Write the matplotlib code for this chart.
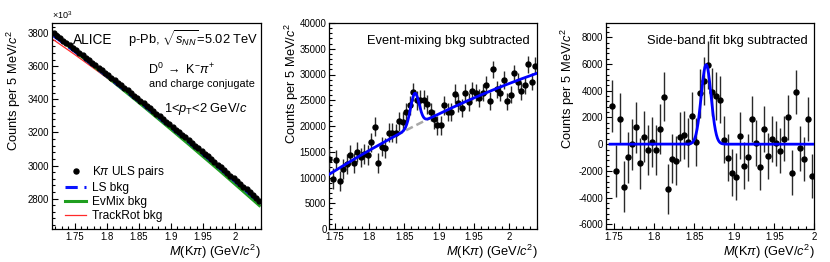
import numpy as np
import matplotlib
matplotlib.use("Agg")
import matplotlib.pyplot as plt
from matplotlib.ticker import MultipleLocator, FuncFormatter
from matplotlib.lines import Line2D

plt.rcParams['font.family'] = ['Liberation Sans', 'DejaVu Sans']
plt.rcParams['mathtext.fontset'] = 'custom'
plt.rcParams['mathtext.rm'] = 'Liberation Sans'
plt.rcParams['mathtext.it'] = 'Liberation Sans:italic'
plt.rcParams['mathtext.bf'] = 'Liberation Sans:bold'

# ---------------- data ----------------
# Left panel: K-pi ULS pair counts (x10^3), 5 MeV bins starting at 1.7175
uls_first_center = 1.7175
bin_width = 0.005
uls_counts = [3800.0, 3785.4, 3770.7, 3756.0, 3741.3, 3726.5, 3711.7, 3696.9, 3682.0, 3667.1,
              3652.1, 3637.1, 3622.1, 3607.0, 3591.9, 3576.7, 3561.5, 3546.3, 3531.0, 3515.7,
              3500.4, 3485.0, 3469.6, 3454.1, 3438.7, 3423.1, 3407.6, 3391.9, 3376.3, 3360.6,
              3344.9, 3329.1, 3313.3, 3297.5, 3281.6, 3265.7, 3249.8, 3233.8, 3217.8, 3201.7,
              3185.6, 3169.5, 3153.3, 3137.1, 3120.8, 3104.5, 3088.2, 3071.8, 3055.4, 3039.0,
              3022.5, 3006.0, 2989.4, 2972.8, 2956.2, 2939.5, 2922.8, 2906.1, 2889.3, 2872.5,
              2855.6, 2838.7, 2821.8, 2804.8, 2787.8]
bkg_mass = [1.7175, 1.75, 1.775, 1.80, 1.825, 1.85, 1.875, 1.90, 1.925, 1.95, 1.975, 2.0, 2.0375]
ls_bkg = [3784, 3691, 3617, 3541, 3465, 3388, 3309, 3230, 3150, 3068, 2986, 2903, 2777]
evmix_bkg = [3792, 3693, 3616, 3539, 3460, 3381, 3300, 3219, 3137, 3054, 2971, 2886, 2758]
trackrot_bkg = [3760, 3672, 3602, 3531, 3458, 3384, 3308, 3231, 3153, 3073, 2992, 2910, 2786]

# Middle panel: event-mixing bkg subtracted
mix_first_center = 1.7425
mix_counts = [13600, 9800, 13400, 9300, 11600, 12600, 14400, 12800, 14900, 13900,
              14600, 14400, 16800, 19900, 12800, 16000, 15700, 18700, 18700, 18600,
              20900, 20800, 22700, 24000, 26600, 25000, 25100, 25100, 24200, 22700,
              21300, 20100, 20100, 24000, 22700, 22700, 26300, 24500, 23500, 26500,
              24700, 26800, 26500, 25500, 26500, 27900, 24800, 31000, 27100, 26500,
              28900, 24800, 26100, 30200, 28600, 26800, 27900, 32000, 28600, 31700]
mix_err = [1950, 1950, 1950, 1940, 1940, 1930, 1930, 1920, 1920, 1910,
           1910, 1900, 1900, 1890, 1890, 1880, 1880, 1870, 1870, 1860,
           1860, 1850, 1850, 1840, 1840, 1830, 1830, 1820, 1820, 1810,
           1800, 1790, 1790, 1780, 1780, 1770, 1770, 1760, 1760, 1750,
           1750, 1740, 1740, 1730, 1730, 1720, 1720, 1710, 1710, 1700,
           1700, 1690, 1690, 1680, 1680, 1670, 1670, 1660, 1660, 1650]
# fit: quadratic background (about 1.745) + gaussian
mix_bkg_pars = [10850, 84000, -62000]
mix_gaus_pars = [6300, 1.865, 0.0062]   # amplitude, mean, sigma

# Right panel: side-band fit bkg subtracted
sb_first_center = 1.7475
sb_counts = [2860, -2000, 1910, -3200, -980, 0, 1260, -1430, 570, -420,
             130, -420, 1110, 3560, -3350, -1090, -1240, 570, 690, 140,
             2120, 150, 3800, 4750, 5900, 3930, 3600, 3330, 330, -1010,
             -2130, -2430, 640, -1610, -980, 1910, 70, -1680, 1110, -860,
             410, 70, -490, 410, 2010, -2130, 3910, -310, -1130, 1860, -2400]
sb_err = [1930, 1920, 1920, 1910, 1910, 1900, 1900, 1890, 1890, 1880,
          1870, 1870, 1860, 1860, 1850, 1850, 1840, 1840, 1830, 1830,
          1820, 1810, 1810, 1800, 1800, 1790, 1790, 1780, 1770, 1770,
          1760, 1760, 1750, 1750, 1740, 1730, 1730, 1720, 1720, 1710,
          1710, 1700, 1690, 1690, 1680, 1680, 1670, 1670, 1660, 1650, 1650]
sb_gaus_pars = [5950, 1.865, 0.0062]

# ---------------- figure ----------------
fig = plt.figure(figsize=(8.30, 2.62), dpi=100)
W, H = 830.0, 262.0
def rect(x0, x1, ytop, ybot):
    return [x0 / W, 1 - ybot / H, (x1 - x0) / W, (ybot - ytop) / H]

axL = fig.add_axes(rect(52, 261, 23, 229))
axM = fig.add_axes(rect(329.3, 537.3, 23, 229))
axR = fig.add_axes(rect(606, 814.3, 23, 229))

tick_fs = 6.9
title_fs = 9.3
gfmt = FuncFormatter(lambda v, p: ('%g' % round(v, 4)))

def style(ax, xmaj, xmin, ymaj, ymin):
    ax.xaxis.set_major_locator(MultipleLocator(xmaj))
    ax.xaxis.set_minor_locator(MultipleLocator(xmin))
    ax.yaxis.set_major_locator(MultipleLocator(ymaj))
    ax.yaxis.set_minor_locator(MultipleLocator(ymin))
    ax.xaxis.set_major_formatter(gfmt)
    ax.yaxis.set_major_formatter(gfmt)
    ax.tick_params(which='both', direction='in', top=False, right=False,
                   labelsize=tick_fs, width=0.8, pad=2)
    ax.tick_params(which='major', length=4.5)
    ax.tick_params(which='minor', length=2.3)
    for s in ax.spines.values():
        s.set_linewidth(0.9)

def labels(ax, ylab_x, ylab_top):
    ax.set_xlabel(r'$M$(K$\pi$) (GeV/$c^{2}$)', fontsize=title_fs)
    ax.xaxis.label.set(ha='right', va='baseline')
    ax.xaxis.set_label_coords(1.0, -0.133)
    ax.set_ylabel(r'Counts per 5 MeV/$c^{2}$', fontsize=title_fs)
    ax.yaxis.label.set(rotation_mode='default', ha='center', va='top')
    ax.yaxis.set_label_coords(ylab_x, ylab_top)

# ---- Left panel ----
uls_x = uls_first_center + bin_width * np.arange(len(uls_counts))
axL.plot(bkg_mass, trackrot_bkg, color='#ff2a2a', lw=0.9, zorder=2)
axL.plot(bkg_mass, evmix_bkg, color='#1f9e1f', lw=2.2, zorder=2)
axL.plot(bkg_mass, ls_bkg, color='#0a14ff', lw=2.2, ls=(0, (4, 2.2)), zorder=2)
axL.plot(uls_x, uls_counts, 'o', color='black', ms=3.5, zorder=3)
axL.set_xlim(1.715, 2.04)
axL.set_ylim(2616, 3862)
style(axL, 0.05, 0.01, 200, 40)
labels(axL, -0.183, 0.966)
axL.text(0.0, 1.012, r'$\times$10$^{3}$', transform=axL.transAxes, fontsize=6.5,
         ha='left', va='bottom')
axL.text(0.100, 0.897, 'ALICE', transform=axL.transAxes, fontsize=9.8,
         ha='left', va='baseline')
axL.text(0.986, 0.897, r'p-Pb, $\sqrt{s_{NN}}$=5.02 TeV', transform=axL.transAxes,
         fontsize=9.3, ha='right', va='baseline')
axL.text(0.459, 0.754, r'D$^{0}$ $\rightarrow$ K$^{-}\pi^{+}$', transform=axL.transAxes,
         fontsize=9.0, ha='left', va='baseline')
axL.text(0.464, 0.691, 'and charge conjugate', transform=axL.transAxes,
         fontsize=7.8, ha='left', va='baseline')
axL.text(0.536, 0.570, r'1<$p_{\rm T}$<2 GeV/$c$', transform=axL.transAxes,
         fontsize=9.3, ha='left', va='baseline')
handles = [Line2D([], [], ls='none', marker='o', color='black', ms=3.6),
           Line2D([], [], color='#0a14ff', lw=2.2, ls=(0, (4, 2.2))),
           Line2D([], [], color='#1f9e1f', lw=2.2),
           Line2D([], [], color='#ff2a2a', lw=0.9)]
axL.legend(handles, [r'K$\pi$ ULS pairs', 'LS bkg', 'EvMix bkg', 'TrackRot bkg'],
           loc='lower left', bbox_to_anchor=(0.062, 0.035), frameon=False,
           fontsize=8.6, handlelength=1.8, handletextpad=0.45, labelspacing=0.15,
           borderpad=0, borderaxespad=0)

# ---- Middle panel ----
mix_x = mix_first_center + bin_width * np.arange(len(mix_counts))
xf = np.linspace(1.7425, 2.0405, 600)
tq = xf - 1.745
bkg_curve = mix_bkg_pars[0] + mix_bkg_pars[1] * tq + mix_bkg_pars[2] * tq ** 2
gaus_mix = mix_gaus_pars[0] * np.exp(-0.5 * ((xf - mix_gaus_pars[1]) / mix_gaus_pars[2]) ** 2)
sel = (xf > 1.838) & (xf < 1.892)
axM.plot(xf[sel], bkg_curve[sel], color='#a8a8a8', lw=1.8, ls=(0, (3, 1.6)), zorder=2)
axM.errorbar(mix_x, mix_counts, yerr=mix_err, fmt='o', color='black', ms=3.6,
             ecolor='#2a2a2a', elinewidth=1.0, capsize=0, zorder=3)
axM.plot(xf, bkg_curve + gaus_mix, color='#0000ff', lw=2.0, zorder=4)
axM.set_xlim(1.7425, 2.0405)
axM.set_ylim(0, 40000)
style(axM, 0.05, 0.01, 5000, 1000)
labels(axM, -0.179, 1.0)
axM.text(0.965, 0.898, 'Event-mixing bkg subtracted', transform=axM.transAxes,
         fontsize=9.3, ha='right', va='baseline')

# ---- Right panel ----
sb_x = sb_first_center + bin_width * np.arange(len(sb_counts))
xr = np.linspace(1.745, 2.0, 600)
gaus_sb = sb_gaus_pars[0] * np.exp(-0.5 * ((xr - sb_gaus_pars[1]) / sb_gaus_pars[2]) ** 2)
axR.errorbar(sb_x, sb_counts, yerr=sb_err, fmt='o', color='black', ms=3.6,
             ecolor='#2a2a2a', elinewidth=1.0, capsize=0, zorder=3)
axR.plot(xr, gaus_sb, color='#0000ff', lw=2.0, zorder=4)
axR.set_xlim(1.74, 2.0)
axR.set_ylim(-6350, 9070)
style(axR, 0.05, 0.01, 2000, 400)
labels(axR, -0.181, 0.976)
axR.text(0.970, 0.898, 'Side-band fit bkg subtracted', transform=axR.transAxes,
         fontsize=9.3, ha='right', va='baseline')

fig.savefig('out.png', dpi=100)
